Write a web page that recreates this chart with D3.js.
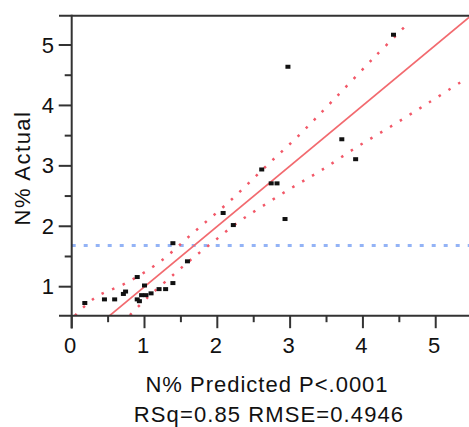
<!DOCTYPE html>
<html>
<head>
<meta charset="utf-8">
<script src="https://cdn.jsdelivr.net/npm/d3@7/dist/d3.min.js"></script>
<style>
  html, body { margin: 0; padding: 0; background: #fff; }
  svg text { font-family: "Liberation Sans", Arial, sans-serif; fill: #111; }
</style>
</head>
<body>
<div id="chart"></div>
<script>
// observed points (predicted, actual)
const predicted = [0.18, 0.45, 0.59, 0.71, 0.74, 0.90, 0.90, 0.93, 0.96, 1.00, 1.02, 1.09,
                   1.20, 1.29, 1.39, 1.39, 1.59, 2.08, 2.22, 2.61, 2.74, 2.82, 2.93, 2.97,
                   3.71, 3.90, 4.42];
const actual    = [0.73, 0.79, 0.79, 0.88, 0.92, 1.16, 0.79, 0.76, 0.86, 1.02, 0.86, 0.89,
                   0.96, 0.96, 1.06, 1.72, 1.42, 2.22, 2.02, 2.94, 2.71, 2.71, 2.12, 4.64,
                   3.44, 3.11, 5.17];

// fitted line and mean line
const fitX = [0.0, 5.6];
const fitY = [0.0, 5.6];
const meanActual = 1.68;

// confidence curves
const upperX = [0.045, 0.32, 0.755, 1.213, 1.67, 2.174, 2.655, 3.136, 3.594, 4.166, 4.637];
const upperY = [0.52, 0.818, 1.066, 1.414, 1.894, 2.419, 2.977, 3.523, 4.09, 4.808, 5.377];
const lowerX = [0.80, 1.04, 1.419, 1.67, 1.937, 2.266, 2.596, 2.999, 3.42, 3.915, 4.418, 4.922, 5.389];
const lowerY = [0.531, 0.818, 1.222, 1.48, 1.735, 2.05, 2.314, 2.62, 2.92, 3.31, 3.677, 4.06, 4.42];

const xTicks = [0, 1, 2, 3, 4, 5];
const yTicks = [1, 2, 3, 4, 5];
const xMinor = [0.5, 1.5, 2.5, 3.5, 4.5];
const yMinor = [1.5, 2.5, 3.5, 4.5];

const xTitle = "N% Predicted P<.0001";
const xSubtitle = "RSq=0.85 RMSE=0.4946";
const yTitle = "N% Actual";

const W = 469, H = 427;
const mLeft = 71.7, mTop = 15.7, mRight = 469, mBottom = 315.7;

const svg = d3.select("#chart").append("svg")
  .attr("width", W).attr("height", H);

const x = d3.scaleLinear().domain([0, 5.457]).range([mLeft, mRight]);
const y = d3.scaleLinear().domain([0.52, 5.485]).range([mBottom, mTop]);

svg.append("clipPath").attr("id", "clip")
  .append("rect").attr("x", mLeft).attr("y", mTop)
  .attr("width", mRight - mLeft).attr("height", mBottom - mTop);

const plot = svg.append("g").attr("clip-path", "url(#clip)");

// mean line
plot.append("line")
  .attr("x1", mLeft).attr("x2", mRight)
  .attr("y1", y(meanActual)).attr("y2", y(meanActual))
  .attr("stroke", "#93b3f6").attr("stroke-width", 3)
  .attr("stroke-dasharray", "4,8");

const line = d3.line().x(d => x(d[0])).y(d => y(d[1]));

// confidence curves
const curve = d3.line().x(d => x(d[0])).y(d => y(d[1])).curve(d3.curveCatmullRom);
[[upperX, upperY], [lowerX, lowerY]].forEach(([xs, ys]) => {
  plot.append("path")
    .datum(xs.map((v, i) => [v, ys[i]]))
    .attr("d", curve)
    .attr("fill", "none")
    .attr("stroke", "#f25868").attr("stroke-width", 2.5)
    .attr("stroke-dasharray", "2.5,9");
});

// fit line
plot.append("path")
  .datum(fitX.map((v, i) => [v, fitY[i]]))
  .attr("d", line)
  .attr("fill", "none")
  .attr("stroke", "#f26a6f").attr("stroke-width", 1.7);

// points
plot.selectAll("rect.pt")
  .data(predicted.map((v, i) => [v, actual[i]]))
  .join("rect")
  .attr("class", "pt")
  .attr("x", d => x(d[0]) - 2.5)
  .attr("y", d => y(d[1]) - 2)
  .attr("width", 5).attr("height", 4)
  .attr("fill", "#111");

// frame
const ax = svg.append("g").attr("stroke", "#333").attr("stroke-width", 2);
ax.append("line").attr("x1", 59).attr("x2", mRight).attr("y1", mTop).attr("y2", mTop);
ax.append("line").attr("x1", 59).attr("x2", mRight).attr("y1", mBottom).attr("y2", mBottom);
ax.append("line").attr("x1", mLeft).attr("x2", mLeft).attr("y1", mTop - 1).attr("y2", 328.5);

// x ticks
ax.selectAll("line.xt").data(xTicks).join("line")
  .attr("x1", d => x(d)).attr("x2", d => x(d))
  .attr("y1", mBottom).attr("y2", mBottom + 12.5);
ax.selectAll("line.xm").data(xMinor).join("line")
  .attr("x1", d => x(d)).attr("x2", d => x(d))
  .attr("y1", mBottom).attr("y2", mBottom + 6.5);
// y ticks
ax.selectAll("line.yt").data(yTicks).join("line")
  .attr("x1", mLeft - 13).attr("x2", mLeft)
  .attr("y1", d => y(d)).attr("y2", d => y(d));
ax.selectAll("line.ym").data(yMinor).join("line")
  .attr("x1", mLeft - 7).attr("x2", mLeft)
  .attr("y1", d => y(d)).attr("y2", d => y(d));

const fs = "22px";
svg.selectAll("text.xl").data(xTicks).join("text")
  .attr("x", d => x(d) - 1.5).attr("y", 353)
  .attr("text-anchor", "middle")
  .style("font-size", fs)
  .text(d => d);

svg.selectAll("text.yl").data(yTicks).join("text")
  .attr("x", 54).attr("y", d => y(d) + 7.5)
  .attr("text-anchor", "end")
  .style("font-size", fs)
  .text(d => d);

svg.append("text")
  .attr("x", 267).attr("y", 391.5)
  .attr("text-anchor", "middle")
  .style("font-size", fs).style("letter-spacing", "1px")
  .text(xTitle);

svg.append("text")
  .attr("x", 269).attr("y", 421.5)
  .attr("text-anchor", "middle")
  .style("font-size", fs).style("letter-spacing", "1.1px")
  .text(xSubtitle);

svg.append("text")
  .attr("transform", "translate(29.5,168) rotate(-90)")
  .attr("text-anchor", "middle")
  .style("font-size", fs).style("letter-spacing", "1.5px")
  .text(yTitle);
</script>
</body>
</html>
